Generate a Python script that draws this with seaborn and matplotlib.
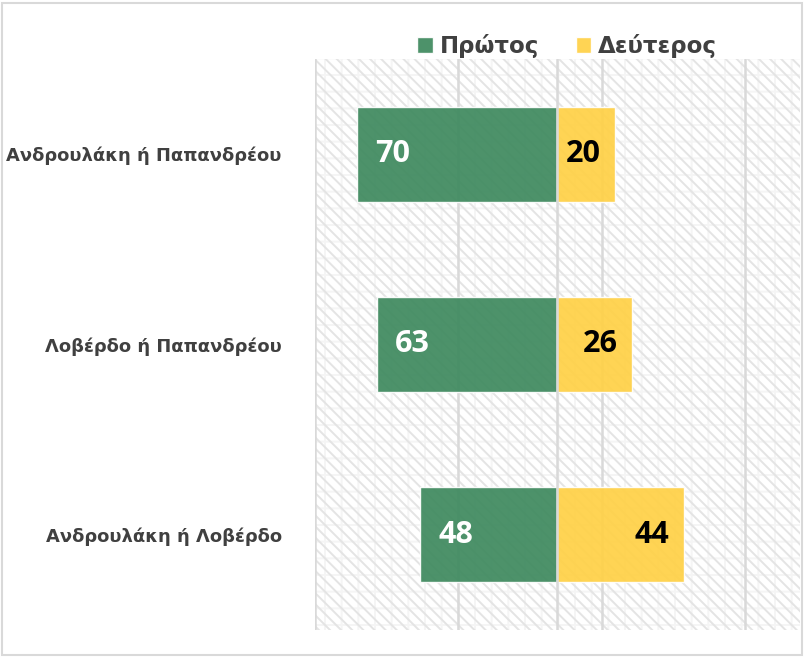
import matplotlib
matplotlib.use("Agg")
import matplotlib.pyplot as plt
from matplotlib.patches import Rectangle
import seaborn as sns
import pandas as pd

# Data
categories = ["Ανδρουλάκη ή Παπανδρέου", "Λοβέρδο ή Παπανδρέου", "Ανδρουλάκη ή Λοβέρδο"]
first = [70, 63, 48]
second = [20, 26, 44]
series_names = ["Πρώτος", "Δεύτερος"]

GREEN = "#3f8a5f"
YELLOW = "#ffd147"
TEXT = "#404040"
GRID = "#d9d9d9"

sns.set_theme(style="white")
plt.rcParams["font.family"] = ["DejaVu Sans"]
plt.rcParams["hatch.linewidth"] = 1.4

df = pd.DataFrame({"cat": categories, "first": first, "second": second})
df["first_neg"] = -df["first"]

fig = plt.figure(figsize=(8.07, 6.57), dpi=100)
ax = fig.add_axes([0.3903, 0.0411, 0.6010, 0.8691])

XMIN, XMAX = -84.5, 84.5
ax.set_xlim(XMIN, XMAX)

# patterned plot background
ax.add_patch(Rectangle((0, 0), 1, 1, transform=ax.transAxes, facecolor="white",
                       edgecolor="#f5f5f5", hatch="+", linewidth=0, zorder=0))
ax.add_patch(Rectangle((0, 0), 1, 1, transform=ax.transAxes, facecolor="none",
                       edgecolor="#e4e4e4", hatch="\\\\\\", linewidth=0, zorder=0.1))

# vertical gridlines
for gx in [-84.5, -34.5, 15.5, 65.5]:
    ax.axvline(gx, color=GRID, lw=1.8, zorder=0.5)

sns.barplot(data=df, x="first_neg", y="cat", color=GREEN, orient="h", width=0.5,
            ax=ax, saturation=1, alpha=0.93, zorder=2, label=series_names[0])
sns.barplot(data=df, x="second", y="cat", color=YELLOW, orient="h", width=0.5,
            ax=ax, saturation=1, alpha=0.93, zorder=2, label=series_names[1])

ax.axvline(0, color=GRID, lw=1.8, zorder=3)
ax.set_ylim(2.5, -0.5)

# value labels
for i, (a, b) in enumerate(zip(first, second)):
    ax.text(-a + 12.5, i, f"{a}", ha="center", va="center", color="white",
            fontsize=22, fontweight="bold", family="Open Sans", zorder=4)
    ax.text(b - 11, i, f"{b}", ha="center", va="center", color="black",
            fontsize=22, fontweight="bold", family="Open Sans", zorder=4)

ax.set_xlabel("")
ax.set_ylabel("")
ax.set_xticks([])
ax.tick_params(axis="y", length=0, pad=24)
for lbl in ax.get_yticklabels():
    lbl.set_fontsize(12.9)
    lbl.set_fontweight("bold")
    lbl.set_color(TEXT)
for s in ax.spines.values():
    s.set_visible(False)

leg = ax.legend(loc="lower center", bbox_to_anchor=(0.52, 0.985), ncol=2, frameon=False,
                fontsize=16.5, handlelength=0.68, handleheight=0.68, handletextpad=0.3,
                columnspacing=1.6, borderaxespad=0)
for t in leg.get_texts():
    t.set_color(TEXT)
    t.set_fontweight("bold")

# outer chart border
fig.patches.append(Rectangle((0.002, 0.003), 0.992, 0.993, transform=fig.transFigure,
                             fill=False, edgecolor=GRID, linewidth=1.5))

fig.savefig("out.png", dpi=100)
